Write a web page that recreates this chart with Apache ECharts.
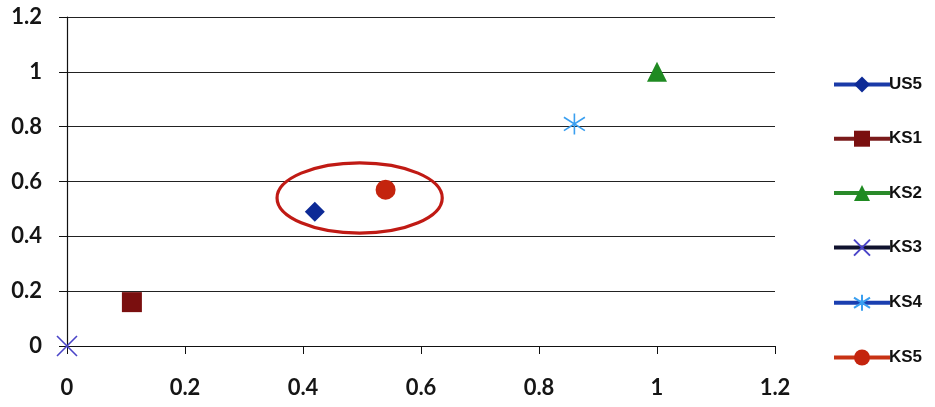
<!DOCTYPE html>
<html>
<head>
<meta charset="utf-8">
<script src="https://cdn.jsdelivr.net/npm/echarts@6/dist/echarts.min.js"></script>
<style>
  html, body { margin: 0; padding: 0; background: #fff; }
  #chart { width: 935px; height: 407px; }
</style>
</head>
<body>
<div id="chart"></div>
<script>
// Series names and their (x, y) points
const seriesNames = ['US5', 'KS1', 'KS2', 'KS3', 'KS4', 'KS5'];
const US5 = [[0.42, 0.49]];
const KS1 = [[0.11, 0.16]];
const KS2 = [[1.0, 1.0]];
const KS3 = [[0.0, 0.0]];
const KS4 = [[0.86, 0.81]];
const KS5 = [[0.54, 0.57]];
const seriesData = [US5, KS1, KS2, KS3, KS4, KS5];

// Axis ticks
const xTicks = [0, 0.2, 0.4, 0.6, 0.8, 1, 1.2];
const yTicks = [0, 0.2, 0.4, 0.6, 0.8, 1, 1.2];

// Highlighted region around US5 and KS5 (centre and radii in data units)
const highlight = [[0.496, 0.54, 0.14, 0.128]];

const XPATH = 'path://M0,0 L10,10 M10,0 L0,10';
const STARPATH = 'path://M5,0 L5,10 M1.2,1.8 L8.8,8.2 M8.8,1.8 L1.2,8.2';

const looks = [
  { symbol: 'diamond', size: 20, fill: '#0d2a96', line: '#1a3aa8' },
  { symbol: 'rect', size: 20, fill: '#7a0f0f', line: '#7a1a1a' },
  { symbol: 'triangle', size: 20, fill: '#1f8a22', line: '#2a8a2a' },
  { symbol: XPATH, size: 20, stroke: '#4a44c8', line: '#10122e' },
  { symbol: STARPATH, size: 21, stroke: '#3a9ff0', line: '#1a3fb0' },
  { symbol: 'circle', size: 20, fill: '#c4240e', line: '#c83214' }
];

const axisFont = {
  fontFamily: 'Lato, "Open Sans", sans-serif',
  fontSize: 22,
  fontWeight: 'bold',
  color: '#151515'
};

const series = seriesNames.map((name, i) => {
  const lk = looks[i];
  const itemStyle = lk.stroke
    ? { color: 'rgba(0,0,0,0)', borderColor: lk.stroke, borderWidth: 1.6 }
    : { color: lk.fill };
  return {
    name: name,
    type: 'line',
    data: seriesData[i],
    symbol: lk.symbol,
    symbolSize: lk.size,
    showSymbol: true,
    itemStyle: itemStyle,
    lineStyle: { color: lk.line, width: 4 },
    z: 5
  };
});

series.push({
  name: 'highlight',
  type: 'custom',
  data: highlight,
  silent: true,
  z: 4,
  renderItem: function (params, api) {
    const c = api.coord([api.value(0), api.value(1)]);
    const e = api.coord([api.value(0) + api.value(2), api.value(1) + api.value(3)]);
    return {
      type: 'ellipse',
      shape: { cx: c[0], cy: c[1], rx: Math.abs(e[0] - c[0]), ry: Math.abs(e[1] - c[1]) },
      style: { fill: 'none', stroke: '#c01a14', lineWidth: 3.2 }
    };
  }
});

const chart = echarts.init(document.getElementById('chart'), null, { renderer: 'canvas' });
chart.setOption({
  backgroundColor: '#ffffff',
  animation: false,
  grid: { left: 67, right: 160, top: 17, bottom: 61, containLabel: false },
  xAxis: {
    type: 'value',
    min: xTicks[0],
    max: xTicks[xTicks.length - 1],
    interval: 0.2,
    axisLine: { show: true, onZero: false, lineStyle: { color: '#111', width: 1.2 } },
    axisTick: { show: true, inside: false, length: 8, lineStyle: { color: '#111' } },
    splitLine: { show: false },
    axisLabel: Object.assign({ margin: 31, formatter: v => String(+v.toFixed(1)) }, axisFont)
  },
  yAxis: {
    type: 'value',
    min: yTicks[0],
    max: yTicks[yTicks.length - 1],
    interval: 0.2,
    axisLine: { show: true, onZero: false, lineStyle: { color: '#111', width: 1.2 } },
    axisTick: { show: true, inside: false, length: 8, lineStyle: { color: '#111' } },
    splitLine: { show: true, lineStyle: { color: '#222', width: 1.2 } },
    axisLabel: Object.assign({ margin: 25, formatter: v => String(+v.toFixed(1)) }, axisFont)
  },
  legend: {
    data: seriesNames,
    orient: 'vertical',
    left: 832,
    top: 76,
    padding: 0,
    itemWidth: 56,
    itemHeight: 20,
    itemGap: 37.2,
    lineStyle: { width: 4 },
    textStyle: {
      fontFamily: '"Liberation Sans", Arial, sans-serif',
      fontWeight: 'bold',
      fontSize: 17,
      color: '#111',
      padding: [0, 0, 0, -6]
    },
    selectedMode: false
  },
  series: series
});
</script>
</body>
</html>
